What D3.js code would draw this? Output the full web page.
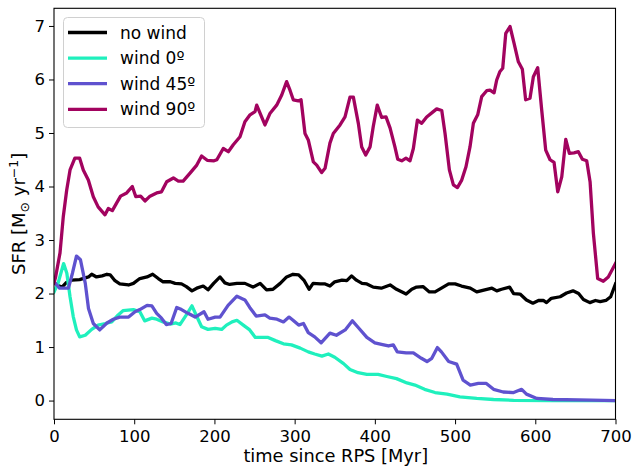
<!DOCTYPE html>
<html><head><meta charset="utf-8">
<script src="https://cdn.jsdelivr.net/npm/d3@7"></script>
<style>body{margin:0;background:#fff}text{font-family:"DejaVu Sans",sans-serif}</style>
</head><body><svg id="c" width="632" height="468"></svg>
<script>
const seriesNames = ["no wind", "wind 0º", "wind 45º", "wind 90º"];
const seriesColors = ["#000000", "#1ff0bd", "#5f52cf", "#a2035f"];
const xTicks = [0, 100, 200, 300, 400, 500, 600, 700];
const yTicks = [0, 1, 2, 3, 4, 5, 6, 7];

const noWind = [[0,2.2],[5,2.15],[10,2.12],[15,2.2],[22,2.25],[32,2.26],[43,2.31],[47,2.36],[53,2.31],[60,2.33],[66,2.36],[70,2.35],[76,2.24],[82,2.18],[93,2.16],[99,2.19],[107,2.28],[116,2.31],[123,2.36],[130,2.28],[136,2.22],[145,2.22],[151,2.19],[159,2.18],[165,2.13],[172,2.05],[178,2.1],[186,2.14],[192,2.07],[199,2.19],[207,2.31],[213,2.2],[219,2.17],[228,2.19],[238,2.19],[248,2.12],[257,2.19],[265,2.07],[273,2.08],[282,2.19],[290,2.31],[298,2.36],[305,2.35],[312,2.24],[318,2.08],[323,2.19],[332,2.18],[338,2.18],[344,2.14],[350,2.22],[359,2.25],[365,2.24],[371,2.33],[377,2.25],[384,2.19],[390,2.18],[398,2.12],[408,2.1],[419,2.16],[427,2.08],[439,1.99],[446,2.08],[452,2.12],[460,2.13],[468,2.03],[475,2.03],[483,2.1],[492,2.18],[500,2.18],[508,2.14],[519,2.1],[527,2.03],[537,2.07],[546,2.1],[552,2.05],[558,2.08],[568,2.12],[573,2.0],[581,1.99],[589,1.88],[597,1.82],[604,1.87],[610,1.87],[614,1.83],[620,1.91],[631,1.94],[639,2.01],[647,2.05],[654,2.0],[660,1.89],[668,1.83],[675,1.87],[681,1.85],[688,1.87],[694,1.94],[700,2.18]];

const wind0 = [[0,2.03],[5,2.19],[12,2.56],[16,2.38],[20,1.94],[24,1.57],[28,1.32],[32,1.19],[39,1.22],[47,1.33],[55,1.41],[64,1.44],[72,1.47],[80,1.6],[86,1.68],[99,1.7],[107,1.66],[113,1.49],[122,1.54],[128,1.52],[136,1.47],[145,1.43],[152,1.45],[157,1.42],[165,1.6],[172,1.77],[178,1.57],[184,1.38],[192,1.33],[201,1.35],[209,1.33],[215,1.41],[222,1.47],[228,1.5],[236,1.41],[244,1.32],[251,1.18],[259,1.18],[267,1.18],[276,1.12],[286,1.06],[296,1.04],[307,0.98],[317,0.91],[325,0.87],[334,0.83],[342,0.87],[350,0.81],[361,0.69],[369,0.58],[379,0.52],[390,0.49],[404,0.49],[415,0.45],[427,0.41],[440,0.33],[450,0.29],[462,0.21],[475,0.15],[490,0.12],[506,0.07],[527,0.04],[548,0.02],[573,0.005],[620,0.0],[700,0.0]];

const wind45 = [[0,2.22],[7,2.1],[18,2.1],[23,2.38],[28,2.7],[33,2.63],[39,2.19],[43,1.72],[49,1.44],[57,1.32],[66,1.45],[74,1.52],[82,1.56],[93,1.56],[101,1.66],[107,1.7],[116,1.78],[122,1.77],[128,1.63],[134,1.54],[140,1.42],[146,1.44],[153,1.74],[159,1.7],[167,1.63],[176,1.56],[187,1.66],[192,1.52],[201,1.56],[207,1.56],[217,1.78],[228,1.95],[238,1.88],[244,1.74],[252,1.58],[263,1.6],[269,1.54],[278,1.52],[286,1.47],[293,1.56],[298,1.5],[305,1.41],[311,1.44],[317,1.27],[325,1.19],[333,1.08],[344,1.26],[352,1.22],[363,1.32],[372,1.49],[379,1.37],[390,1.18],[400,1.08],[411,1.04],[417,1.02],[423,1.04],[428,0.91],[439,0.89],[448,0.89],[458,0.79],[465,0.73],[471,0.79],[478,0.99],[483,0.91],[492,0.73],[502,0.68],[510,0.38],[519,0.29],[529,0.32],[539,0.32],[548,0.21],[560,0.16],[573,0.15],[583,0.21],[589,0.12],[602,0.04],[622,0.02],[670,0.01],[700,0.0]];

const wind90 = [[0,2.2],[2,2.31],[7.5,2.76],[11.6,3.44],[15.8,3.93],[20,4.31],[26,4.53],[32,4.53],[36.5,4.31],[42.8,4.12],[49,3.81],[55,3.62],[63.6,3.47],[67.7,3.59],[72.7,3.55],[78,3.69],[83,3.82],[90.6,3.88],[97.6,4.0],[102,3.81],[108,3.82],[113.4,3.73],[119.7,3.82],[128,3.88],[134,3.9],[140.5,4.09],[148.8,4.16],[155,4.1],[161,4.1],[169.6,4.25],[178,4.4],[184,4.57],[191,4.49],[199.5,4.48],[203,4.5],[211,4.71],[217.3,4.65],[223.5,4.78],[231.9,4.93],[238,5.21],[244.4,5.34],[250.6,5.4],[252.7,5.52],[263,5.15],[269.4,5.37],[277.6,5.52],[283.9,5.71],[290,5.96],[294.2,5.8],[298.3,5.62],[304.6,5.6],[308,5.62],[312.9,4.99],[317,4.87],[323.3,4.46],[327.5,4.4],[333.7,4.26],[337.9,4.34],[344,4.81],[348.2,4.99],[356.6,5.15],[362.8,5.3],[369,5.67],[373.2,5.67],[379.4,5.18],[383.6,4.74],[388.6,4.59],[394,4.74],[398,5.12],[403,5.52],[408.5,5.29],[413.9,5.3],[419,5.09],[425,4.74],[428.5,4.51],[433.5,4.48],[438.8,4.53],[443.8,4.48],[448,4.71],[453,5.24],[458.4,5.18],[464.6,5.3],[472.1,5.39],[477.1,5.45],[483.4,5.42],[487.5,4.99],[492.9,4.31],[497.9,4.03],[502.9,3.98],[508.3,4.12],[513.6,4.37],[518.6,4.74],[522.8,5.18],[528.2,5.34],[533.2,5.68],[539.4,5.79],[543.6,5.8],[548.6,5.75],[551.9,5.99],[556,6.15],[559.4,6.21],[563.2,6.86],[568.5,6.99],[573.5,6.68],[578.9,6.33],[583.9,6.19],[588,5.62],[593.4,5.65],[597.6,6.05],[603,6.22],[608,5.43],[613,4.68],[618.4,4.5],[623.4,4.45],[628,3.9],[633,4.18],[638,4.88],[642.5,4.62],[648.3,4.63],[653.7,4.65],[658.7,4.51],[664.1,4.48],[668.3,4.09],[672.4,3.13],[677.8,2.28],[684.8,2.23],[691,2.31],[700,2.56]];

const allSeries = [noWind, wind0, wind45, wind90];

const svg = d3.select("#c");
const L = 54, R = 615.5, T = 8.3, B = 419.3;
const x = d3.scaleLinear().domain([0, 700]).range([L, R]);
const y = d3.scaleLinear().domain([-0.35, 7.33]).range([B, T]);

// axes
const xa = svg.append("g").attr("transform", `translate(0,${B})`)
  .call(d3.axisBottom(x).tickValues(xTicks).tickFormat(d3.format("d")).tickSize(5).tickPadding(6));
const ya = svg.append("g").attr("transform", `translate(${L},0)`)
  .call(d3.axisLeft(y).tickValues(yTicks).tickFormat(d3.format("d")).tickSize(5).tickPadding(4));
[xa, ya].forEach(g => {
  g.select(".domain").remove();
  g.selectAll("line").attr("stroke", "#000").attr("stroke-width", 1);
  g.selectAll("text").attr("font-size", 16.5).attr("fill", "#000").style("font-family", "DejaVu Sans");
});

svg.append("clipPath").attr("id", "pc").append("rect")
  .attr("x", L).attr("y", T).attr("width", R - L).attr("height", B - T);

const line = d3.line().x(d => x(d[0])).y(d => y(d[1]));
const plot = svg.append("g").attr("clip-path", "url(#pc)");
allSeries.forEach((s, i) => {
  plot.append("path").datum(s).attr("d", line).attr("fill", "none")
    .attr("stroke", seriesColors[i]).attr("stroke-width", 3.3)
    .attr("stroke-linejoin", "round").attr("stroke-linecap", "square");
});

svg.append("rect").attr("x", L).attr("y", T).attr("width", R - L).attr("height", B - T)
  .attr("fill", "none").attr("stroke", "#000").attr("stroke-width", 1.1);

// legend
const lg = svg.append("g");
lg.append("rect").attr("x", 63.5).attr("y", 17.5).attr("width", 141).attr("height", 110)
  .attr("rx", 4).attr("fill", "#fff").attr("fill-opacity", 0.8).attr("stroke", "#d0d0d0");
seriesNames.forEach((n, i) => {
  const yy = 32.5 + i * 25.6;
  lg.append("line").attr("x1", 68).attr("x2", 107).attr("y1", yy).attr("y2", yy)
    .attr("stroke", seriesColors[i]).attr("stroke-width", 3.3);
  lg.append("text").attr("x", 120).attr("y", yy + 6).attr("font-size", 17).text(n);
});

// labels
svg.append("text").attr("x", (L + R) / 2 + 1).attr("y", 461.5).attr("text-anchor", "middle")
  .attr("font-size", 17.8).text("time since RPS [Myr]");
const yl = svg.append("text").attr("transform", `translate(25,${(T + B) / 2}) rotate(-90)`)
  .attr("text-anchor", "middle").attr("font-size", 18);
yl.append("tspan").text("SFR [M");
yl.append("tspan").attr("font-size", 12.5).attr("dy", 3.5).text("⊙");
yl.append("tspan").attr("dy", -3.5).text(" yr");
yl.append("tspan").attr("font-size", 12.5).attr("dy", -7).text("−1");
yl.append("tspan").attr("dy", 7).text("]");
</script></body></html>
